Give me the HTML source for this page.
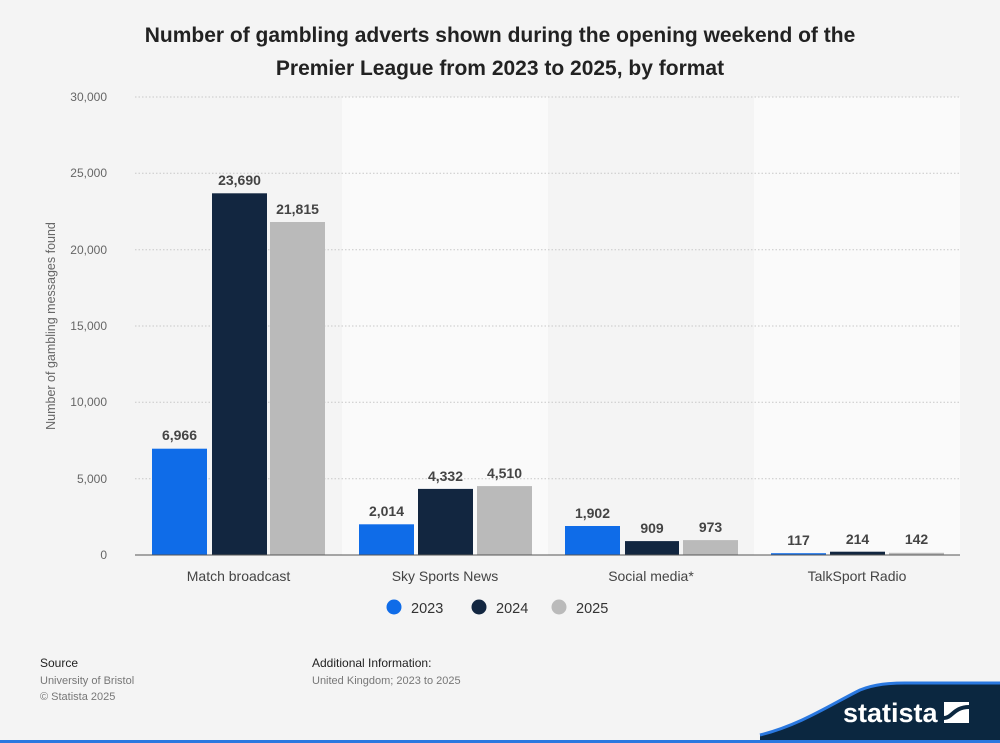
<!DOCTYPE html>
<html><head><meta charset="utf-8"><style>
body{margin:0;background:#f4f4f4;}
svg{display:block;font-family:"Liberation Sans",Arial,sans-serif;}
</style></head><body>
<svg width="1000" height="743" viewBox="0 0 1000 743">
<rect width="1000" height="743" fill="#f4f4f4"/>
<text x="500" y="42" text-anchor="middle" font-size="21" font-weight="bold" fill="#222">Number of gambling adverts shown during the opening weekend of the</text>
<text x="500" y="75" text-anchor="middle" font-size="21" font-weight="bold" fill="#222">Premier League from 2023 to 2025, by format</text>
<rect x="342" y="97" width="206" height="458" fill="#fafafa"/>
<rect x="754" y="97" width="206" height="458" fill="#fafafa"/>
<g stroke="#c8c8c8" stroke-dasharray="1.5,2" stroke-width="1">
<line x1="135" x2="960" y1="97" y2="97"/><line x1="135" x2="960" y1="173.3" y2="173.3"/>
<line x1="135" x2="960" y1="249.7" y2="249.7"/><line x1="135" x2="960" y1="326" y2="326"/>
<line x1="135" x2="960" y1="402.3" y2="402.3"/><line x1="135" x2="960" y1="478.7" y2="478.7"/>
</g>
<g font-size="12" fill="#666" text-anchor="end">
<text x="107" y="101">30,000</text><text x="107" y="177">25,000</text><text x="107" y="254">20,000</text>
<text x="107" y="330">15,000</text><text x="107" y="406">10,000</text><text x="107" y="483">5,000</text><text x="107" y="559">0</text>
</g>
<text transform="translate(55,326) rotate(-90)" text-anchor="middle" font-size="12.5" fill="#666">Number of gambling messages found</text>
<g>
<rect x="152" y="448.7" width="55" height="106.3" fill="#0f6ce8"/>
<rect x="212" y="193.3" width="55" height="361.7" fill="#122640"/>
<rect x="270" y="222" width="55" height="333" fill="#bababa"/>
<rect x="359" y="524.3" width="55" height="30.7" fill="#0f6ce8"/>
<rect x="418" y="488.9" width="55" height="66.1" fill="#122640"/>
<rect x="477" y="486.1" width="55" height="68.9" fill="#bababa"/>
<rect x="565" y="526" width="55" height="29" fill="#0f6ce8"/>
<rect x="625" y="541.1" width="54" height="13.9" fill="#122640"/>
<rect x="683" y="540.1" width="55" height="14.9" fill="#bababa"/>
<rect x="771" y="553.2" width="55" height="1.8" fill="#0f6ce8"/>
<rect x="830" y="551.7" width="55" height="3.3" fill="#122640"/>
<rect x="889" y="552.8" width="55" height="2.2" fill="#bababa"/>
</g>
<line x1="135" x2="960" y1="555" y2="555" stroke="#555" stroke-width="1"/>
<g font-size="14" font-weight="bold" fill="#444" text-anchor="middle">
<text x="179.5" y="440">6,966</text><text x="239.5" y="185">23,690</text><text x="297.5" y="214">21,815</text>
<text x="386.5" y="516">2,014</text><text x="445.5" y="481">4,332</text><text x="504.5" y="478">4,510</text>
<text x="592.5" y="518">1,902</text><text x="652" y="533">909</text><text x="710.5" y="532">973</text>
<text x="798.5" y="545">117</text><text x="857.5" y="544">214</text><text x="916.5" y="544">142</text>
</g>
<g font-size="14" fill="#444" text-anchor="middle">
<text x="238.5" y="581">Match broadcast</text><text x="445" y="581">Sky Sports News</text>
<text x="651" y="581">Social media*</text><text x="857" y="581">TalkSport Radio</text>
</g>
<g font-size="14.5" fill="#333">
<circle cx="394" cy="607" r="7.5" fill="#0f6ce8"/><text x="411" y="613">2023</text>
<circle cx="479" cy="607" r="7.5" fill="#122640"/><text x="496" y="613">2024</text>
<circle cx="559" cy="607" r="7.5" fill="#bababa"/><text x="576" y="613">2025</text>
</g>
<text x="40" y="667" font-size="12" fill="#222">Source</text>
<text x="40" y="684" font-size="11" fill="#777">University of Bristol</text>
<text x="40" y="700" font-size="11" fill="#777">© Statista 2025</text>
<text x="312" y="667" font-size="12" fill="#222">Additional Information:</text>
<text x="312" y="684" font-size="11" fill="#777">United Kingdom; 2023 to 2025</text>
<path d="M760,743 L760,735 C800,725 830,705 860,690 C875,684 890,683 905,683 L1000,683 L1000,743 Z" fill="#0b2740"/>
<path d="M760,735 C800,725 830,705 860,690 C875,684 890,683 905,683 L1000,683" fill="none" stroke="#2a78e0" stroke-width="3"/>
<rect x="0" y="740" width="1000" height="3" fill="#2a78e0"/>
<text x="843" y="722" font-size="27" font-weight="bold" fill="#fff">statista</text>
<rect x="944" y="702" width="25" height="21" fill="#fff"/>
<path d="M944,718 C952,718 954,707 969,707" stroke="#0b2740" stroke-width="4" fill="none"/>
</svg>
</body></html>
